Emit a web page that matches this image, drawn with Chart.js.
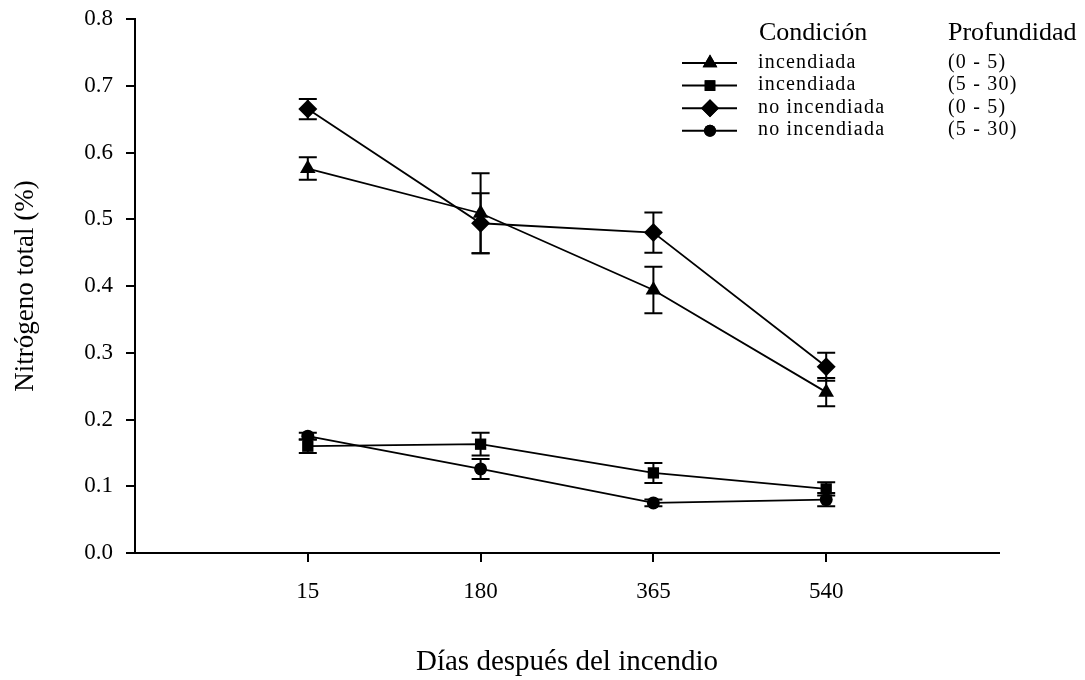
<!DOCTYPE html>
<html>
<head>
<meta charset="utf-8">
<script src="https://cdn.jsdelivr.net/npm/chart.js@4/dist/chart.umd.min.js"></script>
<style>
    html, body { margin: 0; padding: 0; background: #fff; }
    #wrap { width: 1085px; height: 680px; }
</style>
</head>
<body>
<div id="wrap"><canvas id="nChart" width="1085" height="680"></canvas></div>
<script>
// posiciones en el eje x (ranuras) y etiquetas de los días
const xSlots = [1, 2, 3, 4];
const dayLabels = ["15", "180", "365", "540"];

const condiciones = ["incendiada", "incendiada", "no incendiada", "no incendiada"];
const profundidades = ["(0 - 5)", "(5 - 30)", "(0 - 5)", "(5 - 30)"];

// Nitrógeno total (%) y error
const quemado0_5 = [0.576, 0.509, 0.394, 0.241];
const quemado0_5Err = [0.017, 0.060, 0.035, 0.021];
const quemado5_30 = [0.160, 0.163, 0.120, 0.096];
const quemado5_30Err = [0.010, 0.017, 0.015, 0.010];
const noQuemado0_5 = [0.665, 0.494, 0.480, 0.279];
const noQuemado0_5Err = [0.015, 0.045, 0.030, 0.021];
const noQuemado5_30 = [0.175, 0.126, 0.075, 0.080];
const noQuemado5_30Err = [0.005, 0.015, 0.005, 0.010];

const yTicks = [0, 0.1, 0.2, 0.3, 0.4, 0.5, 0.6, 0.7, 0.8];

const serif = "'Liberation Serif', 'Times New Roman', serif";

function toPoints(values) {
    return values.map((v, i) => ({ x: xSlots[i], y: v }));
}

const errorBars = {
    id: "errorBars",
    afterDatasetsDraw(chart) {
        const ctx = chart.ctx;
        const yScale = chart.scales.y;
        ctx.save();
        ctx.strokeStyle = "#000";
        ctx.lineWidth = 2;
        chart.data.datasets.forEach((ds, di) => {
            const meta = chart.getDatasetMeta(di);
            meta.data.forEach((pt, i) => {
                const v = ds.data[i].y;
                const e = ds.errors[i];
                const top = yScale.getPixelForValue(v + e);
                const bot = yScale.getPixelForValue(v - e);
                ctx.beginPath();
                ctx.moveTo(pt.x, top);
                ctx.lineTo(pt.x, bot);
                ctx.moveTo(pt.x - 9, top);
                ctx.lineTo(pt.x + 9, top);
                ctx.moveTo(pt.x - 9, bot);
                ctx.lineTo(pt.x + 9, bot);
                ctx.stroke();
            });
        });
        ctx.restore();
    }
};

const sideLegend = {
    id: "sideLegend",
    afterDraw(chart) {
        const ctx = chart.ctx;
        ctx.save();
        ctx.fillStyle = "#000";
        ctx.textBaseline = "alphabetic";
        ctx.font = "26px " + serif;
        ctx.fillText("Condición", 759, 40);
        ctx.fillText("Profundidad", 948, 40);
        ctx.font = "20px " + serif;
        ctx.letterSpacing = "1.2px";
        chart.data.datasets.forEach((ds, i) => {
            const y = 63 + i * 22.6;
            ctx.strokeStyle = "#000";
            ctx.lineWidth = 2;
            ctx.beginPath();
            ctx.moveTo(682, y);
            ctx.lineTo(737, y);
            ctx.stroke();
            Chart.helpers.drawPoint(ctx, {
                pointStyle: ds.pointStyle,
                radius: ds.pointRadius - 0.5,
                rotation: 0,
                borderWidth: 0
            }, 710, y);
            ctx.fill();
            ctx.fillText(condiciones[i], 758, y + 4.5);
            ctx.fillText(profundidades[i], 948, y + 4.5);
        });
        ctx.restore();
    }
};

function series(label, values, errors, style, radius) {
    return {
        label: label,
        data: toPoints(values),
        errors: errors,
        borderColor: "#000",
        backgroundColor: "#000",
        borderWidth: 1.8,
        pointStyle: style,
        pointRadius: radius,
        pointBorderWidth: 0,
        pointBackgroundColor: "#000",
        tension: 0
    };
}

const ctx = document.getElementById("nChart").getContext("2d");
new Chart(ctx, {
    type: "line",
    data: {
        datasets: [
            series(condiciones[0] + " " + profundidades[0], quemado0_5, quemado0_5Err, "triangle", 9),
            series(condiciones[1] + " " + profundidades[1], quemado5_30, quemado5_30Err, "rect", 8),
            series(condiciones[2] + " " + profundidades[2], noQuemado0_5, noQuemado0_5Err, "rectRot", 9.5),
            series(condiciones[3] + " " + profundidades[3], noQuemado5_30, noQuemado5_30Err, "circle", 6.5)
        ]
    },
    options: {
        responsive: false,
        animation: false,
        events: [],
        layout: { padding: { left: 0, top: 19, right: 86, bottom: 0 } },
        plugins: {
            legend: { display: false },
            tooltip: { enabled: false }
        },
        scales: {
            x: {
                type: "linear",
                min: 0,
                max: 5,
                afterBuildTicks: (axis) => { axis.ticks = xSlots.map(v => ({ value: v })); },
                afterFit: (axis) => { axis.height = 127; },
                ticks: {
                    color: "#000",
                    font: { family: serif, size: 23 },
                    padding: 16,
                    maxRotation: 0,
                    callback: (v) => dayLabels[xSlots.indexOf(v)]
                },
                grid: { drawOnChartArea: false, tickLength: 9, color: "#000", lineWidth: 2 },
                border: { color: "#000", width: 2 },
                title: {
                    display: true,
                    text: "Días después del incendio",
                    color: "#000",
                    font: { family: serif, size: 29 },
                    padding: { top: 0, bottom: 0 }
                }
            },
            y: {
                min: 0,
                max: 0.8,
                afterBuildTicks: (axis) => { axis.ticks = yTicks.map(v => ({ value: v })); },
                afterFit: (axis) => {
                    axis.width = 135;
                    axis.paddingTop = 0;
                    axis.paddingBottom = 0;
                },
                ticks: {
                    color: "#000",
                    font: { family: serif, size: 23 },
                    padding: 13,
                    callback: (v) => v.toFixed(1)
                },
                grid: { drawOnChartArea: false, tickLength: 9, color: "#000", lineWidth: 2 },
                border: { color: "#000", width: 2 },
                title: {
                    display: true,
                    text: "Nitrógeno total (%)",
                    color: "#000",
                    font: { family: serif, size: 27 },
                    padding: { top: 10, bottom: 0 }
                }
            }
        }
    },
    plugins: [errorBars, sideLegend]
});
</script>
</body>
</html>
